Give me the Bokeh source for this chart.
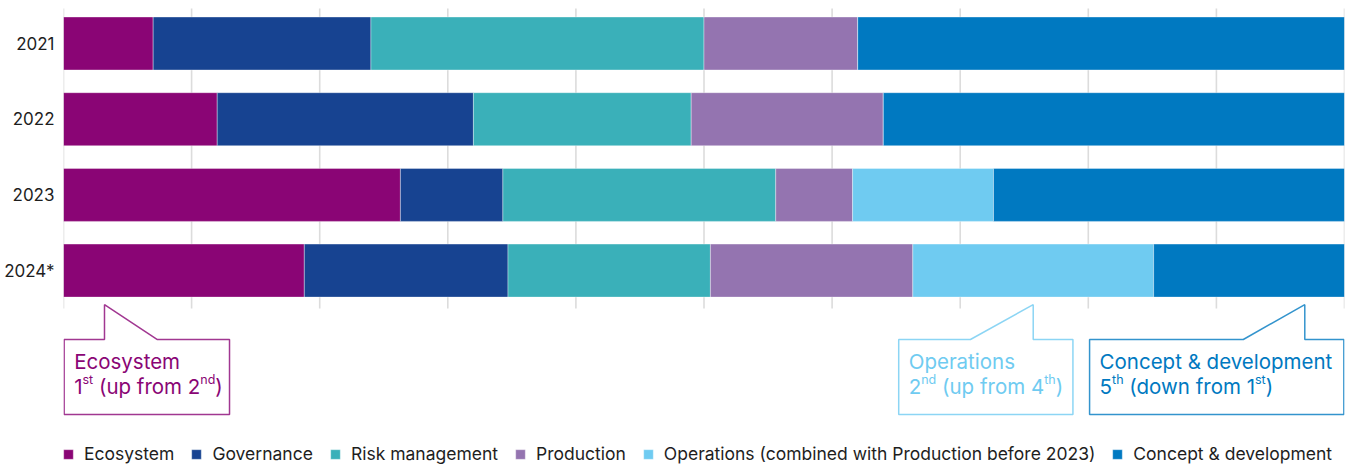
from bokeh.plotting import figure
from bokeh.models import Range1d, FixedTicker, ColumnDataSource, Legend, LegendItem, CustomJS
from bokeh.core.properties import value, field
from bokeh.document import Document
from bokeh.events import DocumentReady
from bokeh.embed import file_html
from bokeh.resources import INLINE

# ---------------- data ----------------
years = ["2021", "2022", "2023", "2024*"]
categories = ["Ecosystem", "Governance", "Risk management", "Production",
              "Operations (combined with Production before 2023)", "Concept & development"]
ecosystem = [7.0, 12.0, 26.3, 18.8]
governance = [17.0, 20.0, 8.0, 15.9]
risk_management = [26.0, 17.0, 21.3, 15.8]
production = [12.0, 15.0, 6.0, 15.8]
operations = [0.0, 0.0, 11.0, 18.8]
concept_development = [38.0, 36.0, 27.4, 14.9]
colors = ["#8a0575", "#174391", "#3ab0b9", "#9474b0", "#6fcbf1", "#0079c1"]
grid_ticks = list(range(0, 101, 10))

callout_titles = ["Ecosystem", "Operations", "Concept & development"]
callout_rank_parts = [["1", "st", "(up from 2", "nd", ")"],
                      ["2", "nd", "(up from 4", "th", ")"],
                      ["5", "th", "(down from 1", "st", ")"]]
superscript_flags = [0, 1, 0, 1, 0]
space_before_flags = [0, 0, 1, 0, 0]
callout_colors = [colors[0], colors[4], colors[5]]
# annotation geometry (x in %, y in category units)
callout_left = [0.05, 65.2, 80.1]
callout_right = [12.96, 78.8, 99.95]
callout_tip = [3.2, 75.7, 96.9]
callout_diag = [7.3, 70.8, 92.1]
callout_tip_y = 3.45
callout_top = 3.91
callout_bottom = 4.90
line1_y = 4.20
line2_y = 4.53

# ---------------- figure ----------------
PX_PER_UNIT = 75.7
FIRST_CENTER = 43.0   # px from figure top
H = 465
W = 1349
y_top = (0 - FIRST_CENTER) / PX_PER_UNIT
y_bottom = (H - FIRST_CENTER) / PX_PER_UNIT
grid_top = (8 - FIRST_CENTER) / PX_PER_UNIT
MAIN_SIZE = 20.5
SUP_SIZE = 12.5
PAD = 10

p = figure(width=W, height=H, output_backend="svg", toolbar_location=None,
           x_range=Range1d(0, 100), y_range=Range1d(start=y_bottom, end=y_top),
           min_border_left=63, min_border_right=5, min_border_top=0, min_border_bottom=0)
p.outline_line_color = None
p.xgrid.grid_line_color = None
p.ygrid.grid_line_color = None
p.xaxis.visible = False
p.background_fill_color = "white"
p.border_fill_color = "white"

yax = p.yaxis[0]
yax.ticker = FixedTicker(ticks=list(range(len(years))))
yax.major_label_overrides = {i: y for i, y in enumerate(years)}
yax.axis_line_color = None
yax.major_tick_line_color = None
yax.minor_tick_line_color = None
yax.major_tick_out = 0
yax.major_tick_in = 0
yax.major_label_standoff = 9
yax.major_label_text_font = "Inter"
yax.major_label_text_font_size = "17px"
yax.major_label_text_color = "#1e1e1e"

# vertical gridlines
p.segment(x0=grid_ticks, y0=[grid_top] * len(grid_ticks), x1=grid_ticks, y1=[3.5] * len(grid_ticks),
          line_color="#dcdcdc", line_width=1.6)

source = ColumnDataSource(dict(
    y=list(range(len(years))),
    Ecosystem=ecosystem, Governance=governance, Risk=risk_management,
    Production=production, Operations=operations, Concept=concept_development))
keys = ["Ecosystem", "Governance", "Risk", "Production", "Operations", "Concept"]
renderers = p.hbar_stack(keys, y="y", height=0.7, color=colors, source=source,
                         line_color="white", line_alpha=0.45, line_width=0.8)

# callout boxes with pointers
for i in range(len(callout_titles)):
    L, R, t, d = callout_left[i], callout_right[i], callout_tip[i], callout_diag[i]
    xs = [L, t, t, d, R, R, L] if d > t else [L, d, t, t, R, R, L]
    ys = [callout_top, callout_top, callout_tip_y, callout_top, callout_top, callout_bottom, callout_bottom]
    p.patch(xs, ys, fill_color="white", line_color=callout_colors[i], line_alpha=0.8, line_width=1.5)

FONT = value("Inter")
csrc = ColumnDataSource(dict(x=callout_left, t1=callout_titles, c=callout_colors, y1=[line1_y] * 3))
p.text(x="x", y="y1", text="t1", source=csrc, x_offset=PAD, text_color="c",
       text_font=FONT, text_font_size=f"{MAIN_SIZE}px", text_baseline="alphabetic")

# second line: pieces with real superscripts (offsets measured in the browser)
approx_w = {'1': 0.45, '2': 0.6, '4': 0.63, '5': 0.6, ' ': 0.28, '(': 0.36, ')': 0.36,
            'u': 0.59, 'p': 0.61, 'f': 0.36, 'r': 0.39, 'o': 0.6, 'm': 0.9, 'd': 0.61,
            'w': 0.8, 'n': 0.59, 's': 0.52, 't': 0.36, 'h': 0.59}
px_, py_, pt_, ps_, pxo, pyo, pc_, pg_, psp = [], [], [], [], [], [], [], [], []
for g, parts in enumerate(callout_rank_parts):
    cur = PAD
    for part, sup, sp in zip(parts, superscript_flags, space_before_flags):
        size = SUP_SIZE if sup else MAIN_SIZE
        if sp:
            cur += approx_w[' '] * MAIN_SIZE
        px_.append(callout_left[g]); py_.append(line2_y); pt_.append(part)
        ps_.append(f"{size}px"); pxo.append(cur); pyo.append(-7 if sup else 0)
        pc_.append(callout_colors[g]); pg_.append(g); psp.append(sp)
        cur += sum(approx_w.get(ch, 0.55) for ch in part) * size
psrc = ColumnDataSource(dict(x=px_, y=py_, text=pt_, size=ps_, xo=pxo, yo=pyo, c=pc_, group=pg_, sp=psp))
p.text(x="x", y="y", text="text", source=psrc, x_offset="xo", y_offset="yo", text_color="c",
       text_font=FONT, text_font_size=field("size"), text_baseline="alphabetic")

legend = Legend(items=[LegendItem(label=c, renderers=[r]) for c, r in zip(categories, renderers)],
                orientation="horizontal", location=(-1, 1),
                glyph_width=12, glyph_height=12, label_standoff=10, spacing=16,
                padding=0, margin=0, border_line_alpha=0, background_fill_alpha=0,
                label_text_font="Inter", label_text_font_size="17.5px", label_text_color="#1e1e1e",
                label_height=17)
p.add_layout(legend)

doc = Document()
doc.add_root(p)
doc.js_on_event(DocumentReady, CustomJS(args=dict(src=psrc, pad=PAD, main=MAIN_SIZE), code="""
    const canvas = document.createElement('canvas');
    const ctx = canvas.getContext('2d');
    const d = src.data;
    const n = d.text.length;
    const xo = new Array(n);
    ctx.font = main + 'px Inter';
    const space = ctx.measureText(' ').width;
    let cur = pad, grp = null;
    for (let i = 0; i < n; i++) {
        if (d.group[i] !== grp) { grp = d.group[i]; cur = pad; }
        if (d.sp[i]) { cur += space; }
        xo[i] = cur;
        ctx.font = d.size[i] + ' Inter';
        cur += ctx.measureText(d.text[i]).width;
    }
    src.data = Object.assign({}, d, {xo: xo});
"""))

open("out.html", "w").write(file_html(p, INLINE))
